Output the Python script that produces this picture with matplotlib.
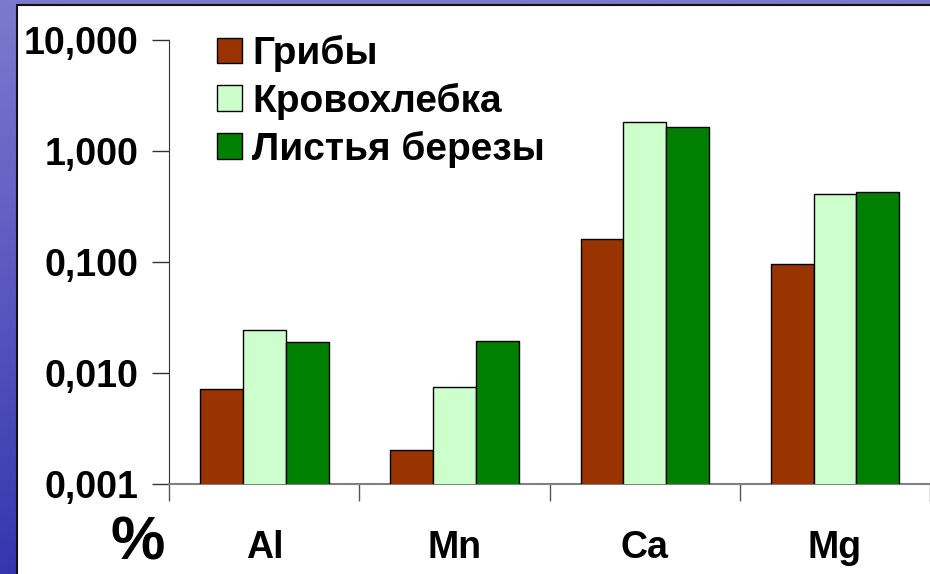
import matplotlib.pyplot as plt
import numpy as np
from matplotlib.colors import LinearSegmentedColormap
from matplotlib.patches import Rectangle

plt.rcParams['font.family'] = ['Liberation Sans', 'DejaVu Sans']
plt.rcParams['font.weight'] = 'bold'

categories = ['Al', 'Mn', 'Ca', 'Mg']
series = ['Грибы', 'Кровохлебка', 'Листья березы']
griby = [0.0071, 0.0020, 0.160, 0.096]
krovokhlebka = [0.0243, 0.0075, 1.82, 0.410]
listya = [0.0189, 0.0193, 1.62, 0.427]
yticks = [0.001, 0.01, 0.1, 1, 10]
yticklabels = ['0,001', '0,010', '0,100', '1,000', '10,000']

colors = ['#993300', '#CCFFCC', '#008000']

fig = plt.figure(figsize=(9.3, 5.74), dpi=100)

# slide background: blue gradient with a white panel
bg = fig.add_axes([0, 0, 1, 1], zorder=-10)
cmap = LinearSegmentedColormap.from_list('slide', ['#7c7acd', '#5a58c0', '#3636ae'])
bg.imshow(np.linspace(0, 1, 256).reshape(-1, 1), aspect='auto', cmap=cmap,
          extent=[0, 1, 0, 1], origin='upper')
bg.add_patch(Rectangle((17 / 930, -0.1), 1.2, 1.1 - 5 / 574, facecolor='white',
                       edgecolor='#111111', linewidth=1.5))
bg.set_xlim(0, 1)
bg.set_ylim(0, 1)
bg.axis('off')

ax = fig.add_axes([169.3 / 930, 1 - 483.7 / 574, 1 - 169.3 / 930,
                   (483.7 - 39.7) / 574])
ax.patch.set_alpha(0)

x = np.arange(len(categories))
w = 0.225
for i, (vals, name) in enumerate(zip([griby, krovokhlebka, listya], series)):
    ax.bar(x + (i - 1) * w, vals, w, color=colors[i], edgecolor='black',
           linewidth=1.0, label=name, zorder=3)

ax.set_yscale('log')
ax.set_ylim(0.001, 10)
ax.set_xlim(-0.5, -0.5 + (930 - 169.3) / 191.4)
ax.set_yticks(yticks)
ax.set_yticklabels(yticklabels, fontsize=27, fontweight='bold')
ax.minorticks_off()
ax.tick_params(axis='y', length=12, width=1, color='#333333', pad=10)

ax.set_xticks(np.arange(-0.5, len(categories), 1.0))
ax.set_xticklabels([])
ax.set_xticks(x, minor=True)
ax.set_xticklabels(categories, minor=True, fontsize=27, fontweight='bold')
ax.tick_params(axis='x', which='major', length=12, width=1, color='#555555')
ax.tick_params(axis='x', which='minor', length=0, pad=33)

for s in ['top', 'right']:
    ax.spines[s].set_visible(False)
ax.spines['left'].set_color('#333333')
ax.spines['bottom'].set_color('#808080')
ax.spines['bottom'].set_linewidth(1.5)

fig.text(138 / 930, 1 - 544 / 574, '%', fontsize=44, fontweight='bold',
         ha='center', va='center')

leg = fig.legend(loc='upper left', bbox_to_anchor=(217 / 930, 1 - 35 / 574),
                 frameon=False, fontsize=28, handlelength=0.64,
                 handleheight=0.64, handletextpad=0.26, labelspacing=0.28,
                 borderaxespad=0, borderpad=0)
for t in leg.get_texts():
    t.set_fontweight('bold')

fig.savefig('out.png', dpi=100)
